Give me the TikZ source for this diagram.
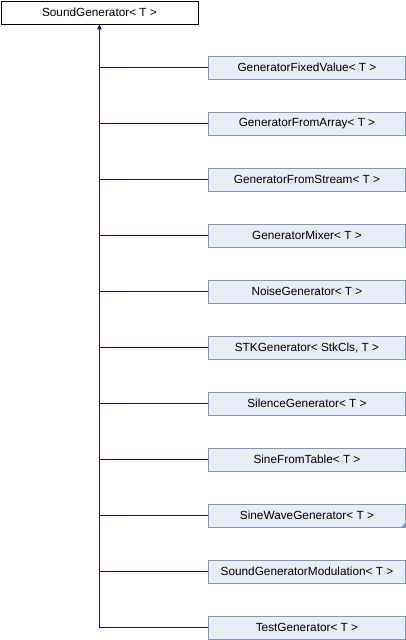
\documentclass[tikz,border=0pt]{standalone}
\usepackage{fontspec}
\setmainfont{Liberation Sans}
\usetikzlibrary{arrows.meta}
\definecolor{boxfill}{HTML}{E8EDF7}
\definecolor{boxline}{HTML}{7E93CC}
\definecolor{linkcol}{HTML}{10108A}
\begin{document}
\begin{tikzpicture}[x=1pt,y=-1pt,
  every node/.style={font=\fontsize{11.8}{13}\selectfont},
  base/.style={draw=black,fill=white,minimum width=197pt,minimum height=23pt,inner sep=0pt,anchor=north west,line width=0.9pt},
  derived/.style={draw=boxline,fill=boxfill,minimum width=197pt,minimum height=23pt,inner sep=0pt,anchor=west,line width=0.9pt},
  link/.style={draw=linkcol,line width=1pt}]
\useasboundingbox (0,0) rectangle (406,640);
\node[base] (sg) at (0.5,0.5) {SoundGenerator< T >};
\foreach \n/\t [count=\i from 0] in {
  a/GeneratorFixedValue< T >,
  b/GeneratorFromArray< T >,
  c/GeneratorFromStream< T >,
  d/GeneratorMixer< T >,
  e/NoiseGenerator< T >,
  f/STKGenerator< StkCls{,} T >,
  g/SilenceGenerator< T >,
  h/SineFromTable< T >,
  i/SineWaveGenerator< T >,
  j/SoundGeneratorModulation< T >,
  k/TestGenerator< T >} {
  \node[derived] (\n) at (208,67.5+56*\i) {\t};
  \coordinate (j\n) at (sg.south |- \n.west);
  \draw[link] (j\n) -- (\n.west);
}
\draw[link,-{Triangle[length=5pt,width=4.5pt]}] (jk) -- (sg.south);
\fill[boxline] (i.south east) -- ++(0,-5) -- ++(-5,5) -- cycle;
\end{tikzpicture}
\end{document}
